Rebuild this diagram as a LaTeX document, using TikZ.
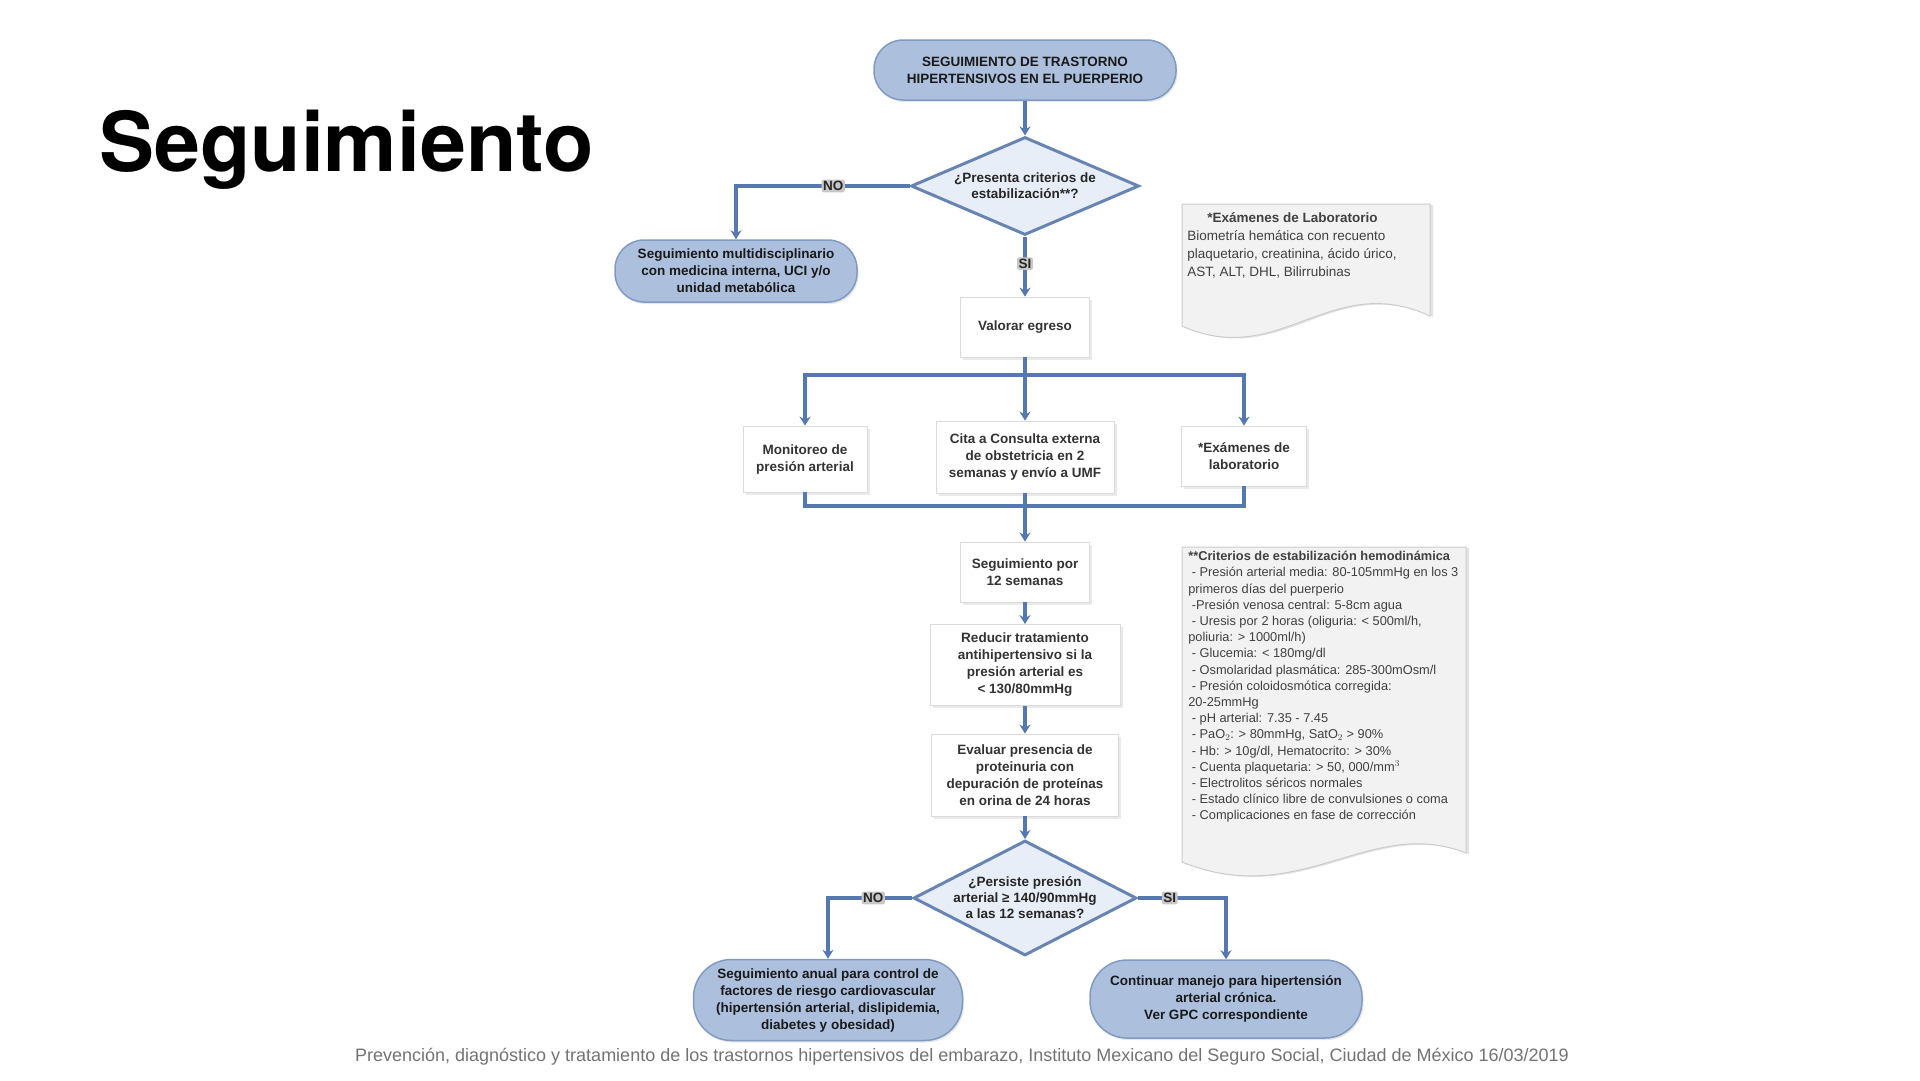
\documentclass[tikz,border=0pt]{standalone}
\usepackage{fontspec}
\setmainfont{Liberation Sans}
\newfontfamily\segtitlefont{TeX Gyre Heros}
\usepackage{xcolor}
\usepackage{tikz}
\usetikzlibrary{arrows.meta,positioning,shapes.geometric,shadows}
\definecolor{segblue}{RGB}{86,120,176}
\definecolor{segtermfill}{RGB}{172,192,222}
\definecolor{segtermline}{RGB}{128,154,196}
\definecolor{segdecfill}{RGB}{232,238,247}
\definecolor{segdecline}{RGB}{104,132,178}

\begin{document}
\begin{tikzpicture}[x=1pt,y=-1pt,line width=0.6pt,
  flow/.style={segblue,line width=3.5pt},
  flowarrow/.style={flow,-{Stealth[length=9pt,width=11pt]}},
  flowlabel/.style={fill=black!22,text=black!85,font=\fontsize{13.5}{14}\selectfont\bfseries,inner sep=1.5pt,rounded corners=2pt},
  termnode/.style={rectangle,rounded corners=29pt,fill=segtermfill,draw=segtermline,line width=1.5pt,align=center,text=black!90,
    font=\fontsize{13.5}{17}\selectfont\bfseries,inner sep=1pt,drop shadow={shadow xshift=1.5pt,shadow yshift=-2pt,fill=black!20}},
  boxnode/.style={rectangle,fill=white,draw=black!14,line width=0.8pt,align=center,text=black!80,
    font=\fontsize{13.5}{17}\selectfont\bfseries,inner sep=1pt,drop shadow={shadow xshift=2.5pt,shadow yshift=-2.5pt,fill=black!16}},
  decnode/.style={diamond,fill=segdecfill,draw=segdecline,line width=3pt,align=center,text=black!85,
    font=\fontsize{13.5}{16}\selectfont\bfseries,inner sep=-10pt},
  notebg/.style={fill=black!5,draw=black!20,line width=1pt,drop shadow={shadow xshift=3pt,shadow yshift=-1pt,fill=black!22}},
  notetext/.style={anchor=north west,align=left,text=black!75,font=\fontsize{12.8}{16.2}\selectfont,inner sep=0pt}]
\useasboundingbox (0,0) rectangle (1920,1080);
% ---------------- title and source ----------------
\node[anchor=base west,inner sep=0pt,font=\segtitlefont\bfseries\fontsize{82.5}{90}\selectfont] (title) at (99,171) {Seguimiento};
\node[text=black!55,font=\fontsize{18}{20}\selectfont,inner sep=0pt] (source) at (962,1057)
  {Prevención, diagnóstico y tratamiento de los trastornos hipertensivos del embarazo, Instituto Mexicano del Seguro Social, Ciudad de México 16/03/2019};
% ---------------- notes ----------------
\filldraw[notebg] (1182,204) -- (1430,204) -- (1430,316) .. controls (1330,270) and (1280,370) .. (1182,326) -- cycle;
\node[notetext,font=\fontsize{13.5}{18}\selectfont] (labnote) at (1187,212)
  {\hspace*{20pt}\textbf{*Exámenes de Laboratorio}\\
   Biometría hemática con recuento\\
   plaquetario, creatinina, ácido úrico,\\
   AST, ALT, DHL, Bilirrubinas};
\filldraw[notebg] (1182,547) -- (1466,547) -- (1466,853) .. controls (1370,815) and (1300,910) .. (1182,862) -- cycle;
\node[notetext] (critnote) at (1188,551)
  {\textbf{**Criterios de estabilización hemodinámica}\\
   \ - Presión arterial media: 80-105mmHg en los 3\\
   primeros días del puerperio\\
   \ -Presión venosa central: 5-8cm agua\\
   \ - Uresis por 2 horas (oliguria: < 500ml/h,\\
   poliuria: > 1000ml/h)\\
   \ - Glucemia: < 180mg/dl\\
   \ - Osmolaridad plasmática: 285-300mOsm/l\\
   \ - Presión coloidosmótica corregida:\\
   20-25mmHg\\
   \ - pH arterial: 7.35 - 7.45\\
   \ - PaO$_2$: > 80mmHg, SatO$_2$ > 90\%\\
   \ - Hb: > 10g/dl, Hematocrito: > 30\%\\
   \ - Cuenta plaquetaria: > 50, 000/mm$^3$\\
   \ - Electrolitos séricos normales\\
   \ - Estado clínico libre de convulsiones o coma\\
   \ - Complicaciones en fase de corrección};
% ---------------- flow nodes ----------------
\node[termnode,minimum width=302pt,minimum height=60pt] (inicio) at (1025,70)
  {SEGUIMIENTO DE TRASTORNO\\ HIPERTENSIVOS EN EL PUERPERIO};
\node[decnode,shape aspect=2.33,minimum width=228pt,minimum height=98pt] (estable) at (1025,186)
  {¿Presenta criterios de\\ estabilización**?};
\node[termnode,minimum width=242pt,minimum height=62pt] (multi) at (736,271)
  {Seguimiento multidisciplinario\\ con medicina interna, UCI y/o\\ unidad metabólica};
\node[boxnode,minimum width=129pt,minimum height=60pt] (egreso) at (1025,327) {Valorar egreso};
\node[boxnode,minimum width=124pt,minimum height=66pt] (monitoreo) at (805,459) {Monitoreo de\\ presión arterial};
\node[boxnode,minimum width=178pt,minimum height=72pt] (cita) at (1025,457)
  {Cita a Consulta externa\\ de obstetricia en 2\\ semanas y envío a UMF};
\node[boxnode,minimum width=125pt,minimum height=60pt] (examenes) at (1244,456) {*Exámenes de\\ laboratorio};
\node[boxnode,minimum width=129pt,minimum height=60pt] (doce) at (1025,572) {Seguimiento por\\ 12 semanas};
\node[boxnode,minimum width=190pt,minimum height=81pt] (reducir) at (1025,665)
  {Reducir tratamiento\\ antihipertensivo si la\\ presión arterial es\\ < 130/80mmHg};
\node[boxnode,minimum width=187pt,minimum height=82pt] (evaluar) at (1025,775)
  {Evaluar presencia de\\ proteinuria con\\ depuración de proteínas\\ en orina de 24 horas};
\node[decnode,shape aspect=1.94,minimum width=223pt,minimum height=115pt] (persiste) at (1025,898)
  {¿Persiste presión\\ arterial ≥ 140/90mmHg\\ a las 12 semanas?};
\node[termnode,rounded corners=38pt,minimum width=269pt,minimum height=81pt] (anual) at (828,1000)
  {Seguimiento anual para control de\\ factores de riesgo cardiovascular\\ (hipertensión arterial, dislipidemia,\\ diabetes y obesidad)};
\node[termnode,rounded corners=37pt,minimum width=272pt,minimum height=78pt] (cronica) at (1226,999)
  {Continuar manejo para hipertensión\\ arterial crónica.\\ Ver GPC correspondiente};
% ---------------- connectors ----------------
\coordinate (reparto) at (1025,375);
\coordinate (union) at (1025,506);
\draw[flowarrow] (inicio) -- (estable);
\draw[flowarrow] (estable) -| (multi) node[flowlabel,pos=0.22] (no1) {NO};
\draw[flowarrow] (estable) -- (egreso) node[flowlabel,pos=0.45] (si1) {SI};
\draw[flow] (egreso) -- (reparto);
\draw[flowarrow] (reparto) -| (monitoreo);
\draw[flowarrow] (reparto) -- (cita);
\draw[flowarrow] (reparto) -| (examenes);
\draw[flow] (monitoreo) |- (union);
\draw[flow] (examenes) |- (union);
\draw[flow] (cita) -- (union);
\draw[flowarrow] (union) -- (doce);
\draw[flowarrow] (doce) -- (reducir);
\draw[flowarrow] (reducir) -- (evaluar);
\draw[flowarrow] (evaluar) -- (persiste);
\draw[flowarrow] (persiste) -| (anual) node[flowlabel,pos=0.23] (no2) {NO};
\draw[flowarrow] (persiste) -| (cronica) node[flowlabel,pos=0.18] (si2) {SI};
\end{tikzpicture}
\end{document}
